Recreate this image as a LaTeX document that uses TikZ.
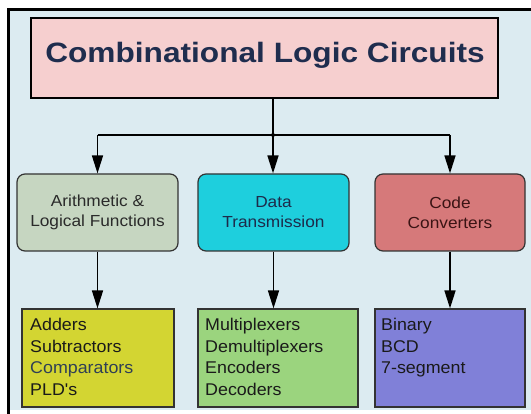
\documentclass[tikz,border=0pt]{standalone}
\usepackage{fontspec}
\setmainfont{Liberation Sans}
\newfontfamily\titlefont[FakeStretch=1.13]{Liberation Sans}
\newfontfamily\boxfont[FakeStretch=1.08]{Liberation Sans}
\newfontfamily\listfont[FakeStretch=1.05]{Liberation Sans}
\usetikzlibrary{arrows.meta}
\definecolor{bgblue}{HTML}{DCEBF1}
\definecolor{titlefill}{HTML}{F6CFCF}
\definecolor{titletext}{HTML}{1F2D4E}
\definecolor{fillA}{HTML}{C6D6C1}
\definecolor{fillB}{HTML}{1ECFDD}
\definecolor{fillC}{HTML}{D6797A}
\definecolor{fillD}{HTML}{D3D532}
\definecolor{fillE}{HTML}{9BD47E}
\definecolor{fillF}{HTML}{8080D8}
\definecolor{edge}{HTML}{333333}
\definecolor{txtA}{HTML}{2A2A2A}
\definecolor{txtB}{HTML}{1D2B4A}
\definecolor{txtC}{HTML}{3B1414}
\definecolor{txtL}{HTML}{1A1A1A}
\definecolor{txtCmp}{HTML}{2F3F55}
\begin{document}
\begin{tikzpicture}[x=1pt,y=-1pt,
  titlebox/.style={draw=black, line width=2pt, fill=titlefill, inner sep=0pt},
  midbox/.style={draw=edge, line width=1.2pt, rounded corners=8pt, inner sep=0pt,
    minimum height=77pt, align=center, font=\boxfont\fontsize{16}{20}\selectfont},
  lowbox/.style={draw=edge, line width=1.2pt, inner sep=0pt, minimum height=98pt},
  listtext/.style={anchor=north west, inner sep=0pt, align=left, text=txtL,
    font=\listfont\fontsize{17}{21.5}\selectfont},
  conn/.style={line width=1.6pt},
  arrowline/.style={line width=1.6pt, -{Triangle[width=11pt,length=18pt]}}
]
\useasboundingbox (0,0) rectangle (531,414);
\fill[white] (0,0) rectangle (531,414);
\fill[bgblue] (8,9.5) rectangle (531,410);
\draw[line width=3pt] (8.5,414) -- (8.5,9.5) -- (531,9.5);

% title
\node[titlebox, minimum width=467pt, minimum height=80pt] (title) at (264.5,58) {};
\node[anchor=base, inner sep=0pt, text=titletext,
  font=\titlefont\bfseries\fontsize{28}{30}\selectfont] (titletxt) at (265,63) {Combinational Logic Circuits};

% middle row
\node[midbox, fill=fillA, minimum width=161pt, text=txtA] (m1) at (97.5,212.5) {Arithmetic \&\\Logical Functions};
\node[midbox, fill=fillB, minimum width=151pt, text=txtB] (m2) at (273.5,212.5) {Data\\Transmission};
\node[midbox, fill=fillC, minimum width=150pt, text=txtC] (m3) at (450,212.5) {Code\\Converters};

% bottom row
\node[lowbox, fill=fillD, minimum width=152pt] (b1) at (98,358) {};
\node[lowbox, fill=fillE, minimum width=160pt] (b2) at (278,358) {};
\node[lowbox, fill=fillF, minimum width=150pt] (b3) at (450,358) {};

\node[listtext] (l1) at (30,318) {Adders\\Subtractors\\\textcolor{txtCmp}{Comparators}\\PLD's};
\node[listtext] (l2) at (205,318) {Multiplexers\\Demultiplexers\\Encoders\\Decoders};
\node[listtext] (l3) at (381,318) {Binary\\BCD\\7-segment};

% connectors
\coordinate (j) at (273,135);
\draw[conn] (title.south -| j) -- (j);
\draw[conn] (m1.north |- j) -- (m3.north |- j);
\fill (j) circle (2pt);
\draw[arrowline] (m1.north |- j) -- (m1.north);
\draw[arrowline] (j) -- (j |- m2.north);
\draw[arrowline] (m3.north |- j) -- (m3.north);
\draw[arrowline] (m1.south) -- (m1.south |- b1.north);
\draw[arrowline] (m2.south) -- (m2.south |- b2.north);
\draw[arrowline] (m3.south) -- (m3.south |- b3.north);
\end{tikzpicture}
\end{document}
